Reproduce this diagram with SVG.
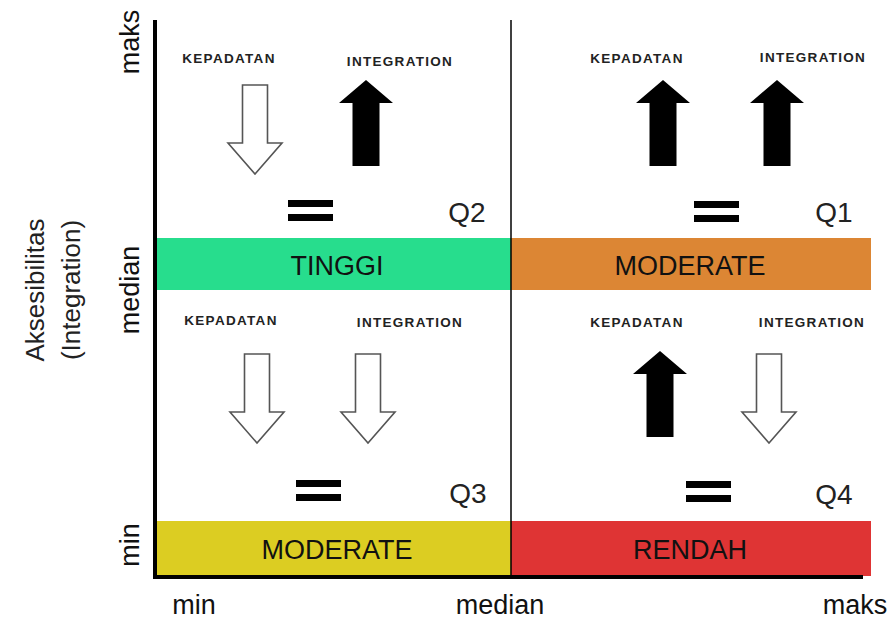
<svg xmlns="http://www.w3.org/2000/svg" width="893" height="624" viewBox="0 0 893 624">
<style>
.t{font-family:"Liberation Sans",Arial,sans-serif;fill:#111}
.ax{font-size:27px;text-anchor:middle}
.ttl{font-size:26px;text-anchor:middle;fill:#222}
.band{font-size:27px;text-anchor:middle}
.q{font-size:28px;text-anchor:middle;fill:#222}
.lbl{font-size:13.5px;font-weight:bold;text-anchor:middle;fill:#222;letter-spacing:1.3px}
.up{fill:#000}
.down{fill:#fff;stroke:#555;stroke-width:1.6}
</style>
<defs>
<path id="upA" d="M0,0 L27,23 L13.5,23 L13.5,86 L-13.5,86 L-13.5,23 L-27,23 Z"/>
<path id="downA" d="M-12.5,-89 L12.5,-89 L12.5,-31 L27,-31 L0,0 L-27,-31 L-12.5,-31 Z"/>
<g id="eq"><rect x="0" y="0" width="45" height="7"/><rect x="0" y="14" width="45" height="7"/></g>
</defs>
<rect width="893" height="624" fill="#fff"/>

<g id="bands">
<rect x="157" y="238" width="354" height="52" fill="#27DD8D"/>
<rect x="511" y="238" width="360" height="52" fill="#DC8634"/>
<rect x="157" y="521" width="354" height="56" fill="#DCCD22"/>
<rect x="511" y="521" width="360" height="55" fill="#DF3434"/>
<text class="t band" x="337" y="275">TINGGI</text>
<text class="t band" x="690" y="275">MODERATE</text>
<text class="t band" x="337" y="559">MODERATE</text>
<text class="t band" x="690" y="559">RENDAH</text>
</g>

<g id="connectors">
<line x1="511" y1="20" x2="511" y2="577" stroke="#000" stroke-width="1.5"/>
<line x1="155" y1="20" x2="155" y2="579" stroke="#000" stroke-width="4"/>
<line x1="153" y1="577" x2="863" y2="577" stroke="#000" stroke-width="4"/>
</g>

<g id="axis-labels">
<text class="t ax" transform="translate(139,42) rotate(-90)">maks</text>
<text class="t ax" transform="translate(139,290) rotate(-90)">median</text>
<text class="t ax" transform="translate(139,545) rotate(-90)">min</text>
<text class="t ttl" transform="translate(44,290) rotate(-90)">Aksesibilitas</text>
<text class="t ttl" transform="translate(80,290) rotate(-90)">(Integration)</text>
<text class="t ax" x="194" y="614">min</text>
<text class="t ax" x="500" y="614">median</text>
<text class="t ax" x="855" y="614">maks</text>
</g>

<g id="Q2">
<text class="t lbl" x="229" y="63">KEPADATAN</text>
<text class="t lbl" x="400" y="66">INTEGRATION</text>
<use href="#downA" class="down" x="255" y="174"/>
<use href="#upA" class="up" x="366" y="80"/>
<use href="#eq" x="288" y="200"/>
<text class="t q" x="467" y="222">Q2</text>
</g>

<g id="Q1">
<text class="t lbl" x="637" y="63">KEPADATAN</text>
<text class="t lbl" x="813" y="62">INTEGRATION</text>
<use href="#upA" class="up" x="663" y="80"/>
<use href="#upA" class="up" x="777" y="80"/>
<use href="#eq" x="694" y="201"/>
<text class="t q" x="834" y="222">Q1</text>
</g>

<g id="Q3">
<text class="t lbl" x="231" y="325">KEPADATAN</text>
<text class="t lbl" x="410" y="327">INTEGRATION</text>
<use href="#downA" class="down" x="257" y="443"/>
<use href="#downA" class="down" x="368" y="443"/>
<use href="#eq" x="296" y="480"/>
<text class="t q" x="468" y="503">Q3</text>
</g>

<g id="Q4">
<text class="t lbl" x="637" y="327">KEPADATAN</text>
<text class="t lbl" x="812" y="327">INTEGRATION</text>
<use href="#upA" class="up" x="660" y="351"/>
<use href="#downA" class="down" x="769" y="443"/>
<use href="#eq" x="686" y="481"/>
<text class="t q" x="834" y="504">Q4</text>
</g>
</svg>
